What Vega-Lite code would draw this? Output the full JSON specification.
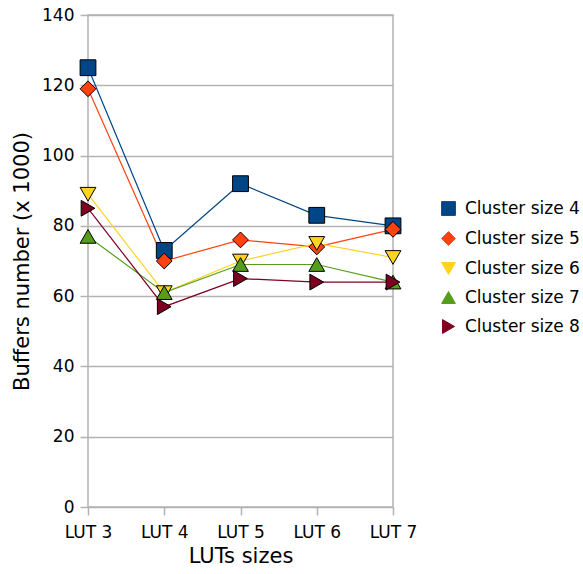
{
  "$schema": "https://vega.github.io/schema/vega-lite/v6.json",
  "width": 305,
  "height": 492,
  "autosize": {"type": "none"},
  "padding": {"left": 88, "top": 15, "right": 190, "bottom": 67},
  "background": "white",
  "config": {
    "font": "DejaVu Sans",
    "view": {"stroke": "#b3b3b3", "strokeWidth": 1.5},
    "axis": {
      "labelFont": "DejaVu Sans",
      "titleFont": "DejaVu Sans",
      "labelFontSize": 17,
      "titleFontSize": 21,
      "titleFontWeight": "normal",
      "labelColor": "black",
      "titleColor": "black",
      "tickColor": "#b3b3b3",
      "tickWidth": 1.5,
      "tickSize": 8,
      "domain": false,
      "gridColor": "#b3b3b3",
      "gridWidth": 1.5
    },
    "legend": {
      "labelFont": "DejaVu Sans",
      "labelFontSize": 17,
      "labelColor": "black",
      "symbolStrokeColor": "black",
      "symbolStrokeWidth": 1,
      "symbolSize": 190
    }
  },
  "data": {
    "values": [
      {"lut": "LUT 3", "series": "Cluster size 4", "value": 125},
      {"lut": "LUT 4", "series": "Cluster size 4", "value": 73},
      {"lut": "LUT 5", "series": "Cluster size 4", "value": 92},
      {"lut": "LUT 6", "series": "Cluster size 4", "value": 83},
      {"lut": "LUT 7", "series": "Cluster size 4", "value": 80},
      {"lut": "LUT 3", "series": "Cluster size 5", "value": 119},
      {"lut": "LUT 4", "series": "Cluster size 5", "value": 70},
      {"lut": "LUT 5", "series": "Cluster size 5", "value": 76},
      {"lut": "LUT 6", "series": "Cluster size 5", "value": 74},
      {"lut": "LUT 7", "series": "Cluster size 5", "value": 79},
      {"lut": "LUT 3", "series": "Cluster size 6", "value": 89},
      {"lut": "LUT 4", "series": "Cluster size 6", "value": 61},
      {"lut": "LUT 5", "series": "Cluster size 6", "value": 70},
      {"lut": "LUT 6", "series": "Cluster size 6", "value": 75},
      {"lut": "LUT 7", "series": "Cluster size 6", "value": 71},
      {"lut": "LUT 3", "series": "Cluster size 7", "value": 77},
      {"lut": "LUT 4", "series": "Cluster size 7", "value": 61},
      {"lut": "LUT 5", "series": "Cluster size 7", "value": 69},
      {"lut": "LUT 6", "series": "Cluster size 7", "value": 69},
      {"lut": "LUT 7", "series": "Cluster size 7", "value": 64},
      {"lut": "LUT 3", "series": "Cluster size 8", "value": 85},
      {"lut": "LUT 4", "series": "Cluster size 8", "value": 57},
      {"lut": "LUT 5", "series": "Cluster size 8", "value": 65},
      {"lut": "LUT 6", "series": "Cluster size 8", "value": 64},
      {"lut": "LUT 7", "series": "Cluster size 8", "value": 64}
    ]
  },
  "encoding": {
    "x": {
      "field": "lut",
      "type": "ordinal",
      "scale": {"type": "point", "padding": 0},
      "axis": {"title": "LUTs sizes", "labelAngle": 0, "labelPadding": 9, "titlePadding": 5, "grid": false}
    },
    "y": {
      "field": "value",
      "type": "quantitative",
      "scale": {"domain": [0, 140], "nice": false},
      "axis": {"title": "Buffers number (x 1000)", "values": [0, 20, 40, 60, 80, 100, 120, 140], "labelPadding": 6, "titlePadding": 9, "grid": true}
    }
  },
  "layer": [
    {
      "mark": {"type": "line", "strokeWidth": 1.2},
      "encoding": {
        "color": {
          "field": "series",
          "type": "nominal",
          "scale": {
            "domain": ["Cluster size 4", "Cluster size 5", "Cluster size 6", "Cluster size 7", "Cluster size 8"],
            "range": ["#004586", "#ff420e", "#ffd320", "#579d1c", "#7e0021"]
          }
        }
      }
    },
    {
      "mark": {"type": "point", "filled": true, "opacity": 1, "stroke": "black", "strokeWidth": 1, "size": 250},
      "encoding": {
        "color": {
          "field": "series",
          "type": "nominal",
          "legend": {
            "title": null,
            "orient": "none",
            "legendX": 352,
            "legendY": 185,
            "rowPadding": 11,
            "symbolSize": 190,
            "labelOffset": 8,
            "encode": {"symbols": {"update": {"stroke": {"value": "black"}, "strokeWidth": {"value": 1}}}}
          }
        },
        "shape": {
          "field": "series",
          "type": "nominal",
          "scale": {
            "domain": ["Cluster size 4", "Cluster size 5", "Cluster size 6", "Cluster size 7", "Cluster size 8"],
            "range": ["square", "diamond", "triangle-down", "triangle-up", "triangle-right"]
          },
          "legend": {
            "title": null,
            "orient": "none",
            "legendX": 352,
            "legendY": 185,
            "rowPadding": 11,
            "symbolSize": 190,
            "labelOffset": 8,
            "encode": {"symbols": {"update": {"stroke": {"value": "black"}, "strokeWidth": {"value": 1}}}}
          }
        }
      }
    }
  ]
}
